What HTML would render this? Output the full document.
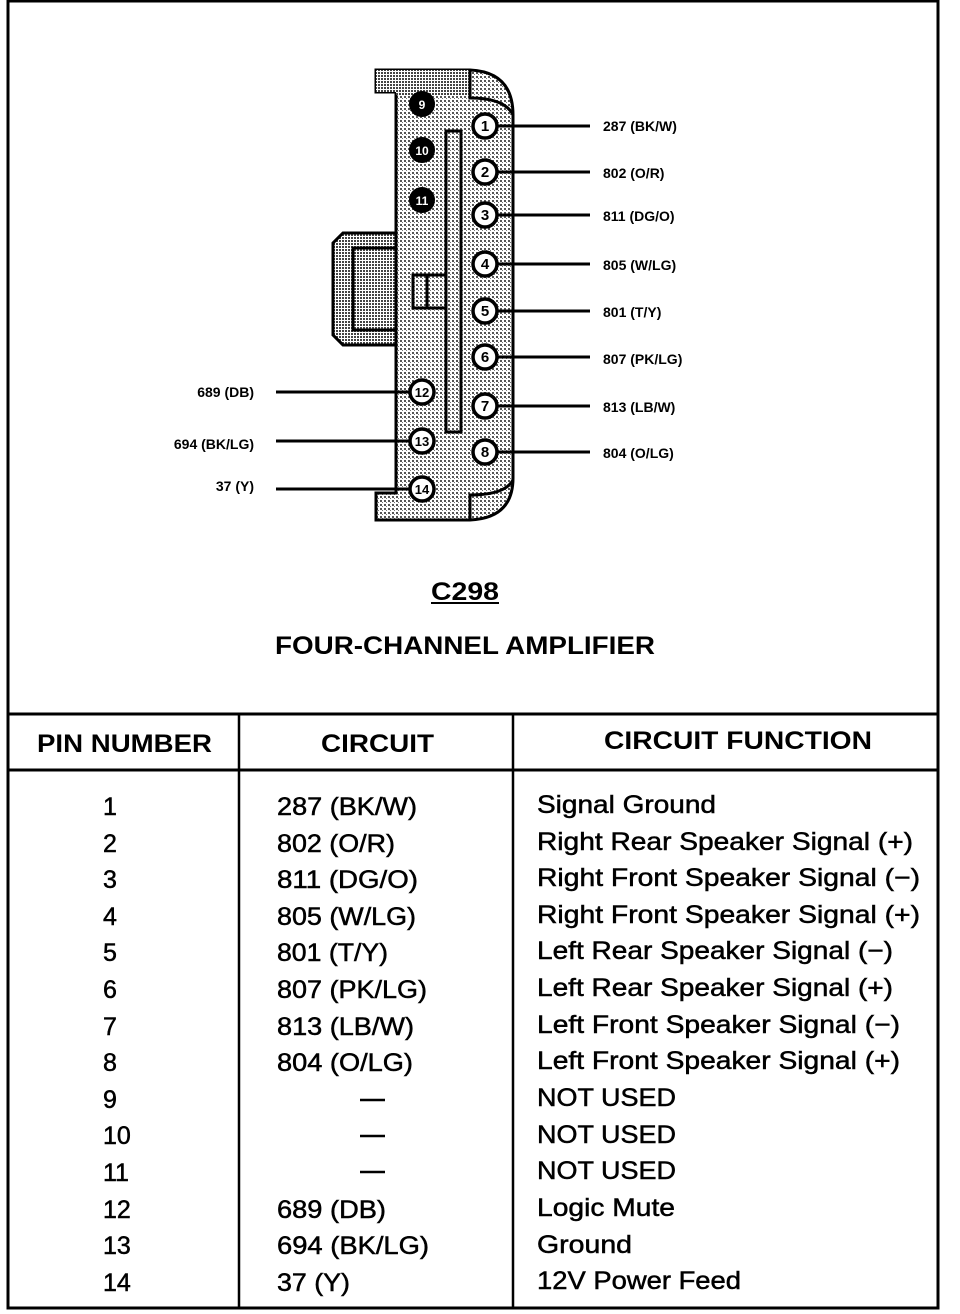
<!DOCTYPE html>
<html><head><meta charset="utf-8"><style>
html,body{margin:0;padding:0;background:#fff;}
svg{display:block;}
text{font-family:"Liberation Sans",Arial,sans-serif;fill:#000;}
.lbl{font-size:14px;font-weight:bold;}
.row{font-size:25px;stroke:#000;stroke-width:0.5px;}
.hd{font-size:25px;font-weight:bold;}
</style></head><body>
<svg width="960" height="1314" viewBox="0 0 960 1314" xmlns="http://www.w3.org/2000/svg">
<defs>
<pattern id="dots" width="3" height="3" patternUnits="userSpaceOnUse">
<rect width="3" height="3" fill="#fff"/>
<rect width="2" height="2" fill="#444"/>
</pattern>
<pattern id="dots2" width="4" height="4" patternUnits="userSpaceOnUse">
<rect width="4" height="4" fill="#fff"/>
<rect width="2" height="2" fill="#555"/>
<rect x="2" y="2" width="1" height="1" fill="#777"/>
</pattern>
</defs>
<rect x="8" y="1" width="930" height="1307" fill="none" stroke="#000" stroke-width="3"/>
<line x1="8" y1="714" x2="938" y2="714" stroke="#000" stroke-width="3"/>
<line x1="8" y1="770" x2="938" y2="770" stroke="#000" stroke-width="3"/>
<line x1="239" y1="714" x2="239" y2="1308" stroke="#000" stroke-width="2.5"/>
<line x1="513" y1="714" x2="513" y2="1308" stroke="#000" stroke-width="2.5"/>

<path d="M343,233 L396,233 L396,345 L343,345 L333,335 L333,243 Z" fill="url(#dots)" stroke="#000" stroke-width="3"/>
<rect x="353" y="248" width="43" height="82" fill="url(#dots)" stroke="#000" stroke-width="3"/>
<path d="M376,70 L470,70 Q513,72 513,115 L513,478 Q513,518 470,520 L376,520 L376,493 L396,493 L396,92 L376,92 Z" fill="url(#dots2)" stroke="#000" stroke-width="3"/>
<path d="M376,70 L470,70 L470,95 L396,95 L396,92 L376,92 Z" fill="url(#dots)" stroke="none"/>
<path d="M470,70 L470,98 Q505,98 513,115" fill="none" stroke="#000" stroke-width="3"/>
<path d="M470,520 L470,495 Q505,495 513,480" fill="none" stroke="#000" stroke-width="3"/>
<rect x="446" y="131" width="15" height="301" fill="url(#dots2)" stroke="#000" stroke-width="3"/>
<rect x="413" y="275" width="33" height="33" fill="url(#dots2)" stroke="#000" stroke-width="3"/>
<line x1="427" y1="275" x2="427" y2="308" stroke="#000" stroke-width="3"/>
<g font-size="12" font-weight="bold" text-anchor="middle">
<circle cx="422" cy="104" r="13" fill="#000"/><text x="422" y="109" style="fill:#fff">9</text>
<circle cx="422" cy="150" r="13" fill="#000"/><text x="422" y="155" style="fill:#fff">10</text>
<circle cx="422" cy="200" r="13" fill="#000"/><text x="422" y="205" style="fill:#fff">11</text>
</g>
<g stroke="#000" stroke-width="3">
<line x1="497" y1="126" x2="590" y2="126"/>
<line x1="497" y1="172" x2="590" y2="172"/>
<line x1="497" y1="215" x2="590" y2="215"/>
<line x1="497" y1="264" x2="590" y2="264"/>
<line x1="497" y1="311" x2="590" y2="311"/>
<line x1="497" y1="357" x2="590" y2="357"/>
<line x1="497" y1="406" x2="590" y2="406"/>
<line x1="497" y1="452" x2="590" y2="452"/>
<line x1="276" y1="392" x2="410" y2="392"/>
<line x1="276" y1="441" x2="410" y2="441"/>
<line x1="276" y1="489" x2="410" y2="489"/>
</g>
<g stroke="#000" stroke-width="3.5" fill="#fff">
<circle cx="485" cy="126" r="12"/><circle cx="485" cy="172" r="12"/><circle cx="485" cy="215" r="12"/>
<circle cx="485" cy="264" r="12"/><circle cx="485" cy="311" r="12"/><circle cx="485" cy="357" r="12"/>
<circle cx="485" cy="406" r="12"/><circle cx="485" cy="452" r="12"/>
<circle cx="422" cy="392" r="12"/><circle cx="422" cy="441" r="12"/><circle cx="422" cy="489" r="12"/>
</g>
<g font-size="15" font-weight="bold" text-anchor="middle">
<text x="485" y="131">1</text><text x="485" y="177">2</text><text x="485" y="220">3</text>
<text x="485" y="269">4</text><text x="485" y="316">5</text><text x="485" y="362">6</text>
<text x="485" y="411">7</text><text x="485" y="457">8</text>
<text x="422" y="397" font-size="13">12</text><text x="422" y="446" font-size="13">13</text><text x="422" y="494" font-size="13">14</text>
</g>
<g class="lbl">
<text x="603" y="131" class="lbl">287 (BK/W)</text>
<text x="603" y="178" class="lbl">802 (O/R)</text>
<text x="603" y="221" class="lbl">811 (DG/O)</text>
<text x="603" y="270" class="lbl">805 (W/LG)</text>
<text x="603" y="317" class="lbl">801 (T/Y)</text>
<text x="603" y="364" class="lbl">807 (PK/LG)</text>
<text x="603" y="412" class="lbl">813 (LB/W)</text>
<text x="603" y="458" class="lbl">804 (O/LG)</text>
<text x="254" y="397" class="lbl" text-anchor="end">689 (DB)</text>
<text x="254" y="449" class="lbl" text-anchor="end">694 (BK/LG)</text>
<text x="254" y="491" class="lbl" text-anchor="end">37 (Y)</text>
</g>
<text x="465" y="600" class="hd" text-anchor="middle" textLength="68" lengthAdjust="spacingAndGlyphs">C298</text>
<line x1="431" y1="603" x2="499" y2="603" stroke="#000" stroke-width="2"/>
<text x="275" y="654" class="hd" textLength="380" lengthAdjust="spacingAndGlyphs">FOUR-CHANNEL AMPLIFIER</text>

<text x="37" y="752" class="hd" textLength="175" lengthAdjust="spacingAndGlyphs">PIN NUMBER</text>
<text x="321" y="752" class="hd" textLength="113" lengthAdjust="spacingAndGlyphs">CIRCUIT</text>
<text x="604" y="749" class="hd" textLength="268" lengthAdjust="spacingAndGlyphs">CIRCUIT FUNCTION</text>

<g class="row">
<text x="103" y="815">1</text>
<text x="103" y="852">2</text>
<text x="103" y="888">3</text>
<text x="103" y="925">4</text>
<text x="103" y="961">5</text>
<text x="103" y="998">6</text>
<text x="103" y="1035">7</text>
<text x="103" y="1071">8</text>
<text x="103" y="1108">9</text>
<text x="103" y="1144">10</text>
<text x="103" y="1181">11</text>
<text x="103" y="1218">12</text>
<text x="103" y="1254">13</text>
<text x="103" y="1291">14</text>

<text x="277" y="815" textLength="140" lengthAdjust="spacingAndGlyphs">287 (BK/W)</text>
<text x="277" y="852" textLength="118" lengthAdjust="spacingAndGlyphs">802 (O/R)</text>
<text x="277" y="888" textLength="141" lengthAdjust="spacingAndGlyphs">811 (DG/O)</text>
<text x="277" y="925" textLength="139" lengthAdjust="spacingAndGlyphs">805 (W/LG)</text>
<text x="277" y="961" textLength="111" lengthAdjust="spacingAndGlyphs">801 (T/Y)</text>
<text x="277" y="998" textLength="150" lengthAdjust="spacingAndGlyphs">807 (PK/LG)</text>
<text x="277" y="1035" textLength="137" lengthAdjust="spacingAndGlyphs">813 (LB/W)</text>
<text x="277" y="1071" textLength="136" lengthAdjust="spacingAndGlyphs">804 (O/LG)</text>
<text x="277" y="1218" textLength="109" lengthAdjust="spacingAndGlyphs">689 (DB)</text>
<text x="277" y="1254" textLength="152" lengthAdjust="spacingAndGlyphs">694 (BK/LG)</text>
<text x="277" y="1291" textLength="73" lengthAdjust="spacingAndGlyphs">37 (Y)</text>

<text x="537" y="813" textLength="179" lengthAdjust="spacingAndGlyphs">Signal Ground</text>
<text x="537" y="850" textLength="376" lengthAdjust="spacingAndGlyphs">Right Rear Speaker Signal (+)</text>
<text x="537" y="886" textLength="383" lengthAdjust="spacingAndGlyphs">Right Front Speaker Signal (−)</text>
<text x="537" y="923" textLength="383" lengthAdjust="spacingAndGlyphs">Right Front Speaker Signal (+)</text>
<text x="537" y="959" textLength="356" lengthAdjust="spacingAndGlyphs">Left Rear Speaker Signal (−)</text>
<text x="537" y="996" textLength="356" lengthAdjust="spacingAndGlyphs">Left Rear Speaker Signal (+)</text>
<text x="537" y="1033" textLength="363" lengthAdjust="spacingAndGlyphs">Left Front Speaker Signal (−)</text>
<text x="537" y="1069" textLength="363" lengthAdjust="spacingAndGlyphs">Left Front Speaker Signal (+)</text>
<text x="537" y="1106" textLength="139" lengthAdjust="spacingAndGlyphs">NOT USED</text>
<text x="537" y="1143" textLength="139" lengthAdjust="spacingAndGlyphs">NOT USED</text>
<text x="537" y="1179" textLength="139" lengthAdjust="spacingAndGlyphs">NOT USED</text>
<text x="537" y="1216" textLength="138" lengthAdjust="spacingAndGlyphs">Logic Mute</text>
<text x="537" y="1253" textLength="95" lengthAdjust="spacingAndGlyphs">Ground</text>
<text x="537" y="1289" textLength="204" lengthAdjust="spacingAndGlyphs">12V Power Feed</text>
</g>
<g stroke="#000" stroke-width="2.5">
<line x1="360" y1="1100" x2="385" y2="1100"/>
<line x1="360" y1="1136" x2="385" y2="1136"/>
<line x1="360" y1="1172" x2="385" y2="1172"/>
</g>
</svg>
</body></html>
